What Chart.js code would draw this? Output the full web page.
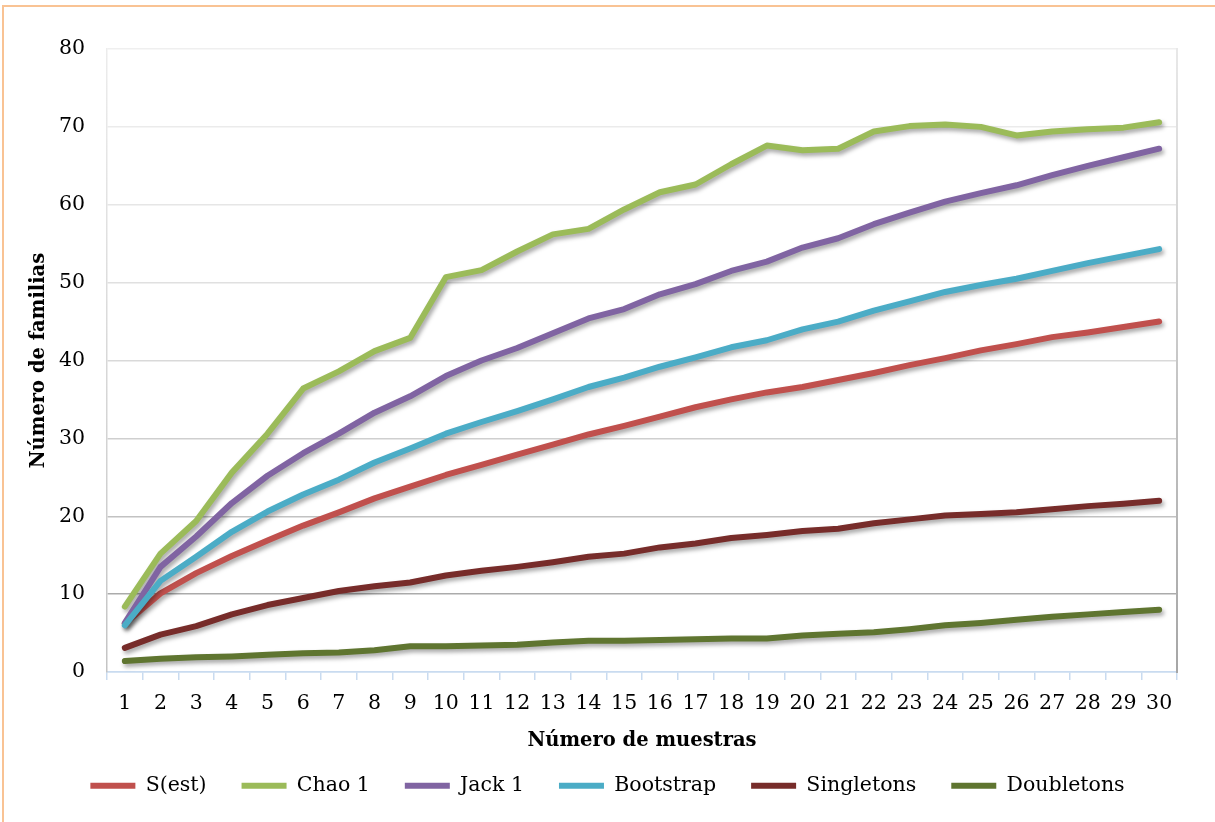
<!DOCTYPE html>
<html>
<head>
<meta charset="utf-8">
<script src="https://cdn.jsdelivr.net/npm/chart.js@4.4.1/dist/chart.umd.min.js"></script>
<style>
  html, body { margin: 0; padding: 0; background: #fff; overflow: hidden; }
  #frame {
    position: absolute; left: 2px; top: 5px; width: 1400px; height: 1000px;
    border-left: 2px solid #f9c394; border-top: 2px solid #f9c394;
  }
  #chart { position: absolute; left: 0; top: 0; }
</style>
</head>
<body>
<div id="frame"></div>
<canvas id="chart" width="1215" height="822"></canvas>
<script>
const muestras = ['1','2','3','4','5','6','7','8','9','10','11','12','13','14','15',
  '16','17','18','19','20','21','22','23','24','25','26','27','28','29','30'];

const sEst = [6.2, 10.1, 12.7, 14.9, 16.9, 18.8, 20.5, 22.3, 23.8, 25.3, 26.6, 27.9, 29.2, 30.5, 31.6,
  32.8, 34.0, 35.0, 35.9, 36.6, 37.5, 38.4, 39.4, 40.3, 41.3, 42.1, 43.0, 43.6, 44.3, 45.0];
const chao1 = [8.4, 15.2, 19.4, 25.6, 30.6, 36.4, 38.6, 41.2, 42.9, 50.7, 51.6, 54.0, 56.2, 56.9, 59.4,
  61.6, 62.6, 65.2, 67.6, 67.0, 67.2, 69.4, 70.1, 70.3, 70.0, 68.9, 69.4, 69.7, 69.9, 70.6];
const jack1 = [6.3, 13.5, 17.4, 21.7, 25.2, 28.1, 30.6, 33.3, 35.4, 38.0, 40.0, 41.6, 43.5, 45.4, 46.6,
  48.5, 49.8, 51.5, 52.7, 54.5, 55.7, 57.5, 59.0, 60.4, 61.5, 62.5, 63.8, 65.0, 66.1, 67.2];
const bootstrap = [6.0, 11.7, 14.8, 18.0, 20.6, 22.8, 24.7, 26.9, 28.7, 30.6, 32.1, 33.5, 35.0, 36.6, 37.8,
  39.2, 40.4, 41.7, 42.6, 44.0, 45.0, 46.4, 47.6, 48.8, 49.7, 50.5, 51.5, 52.5, 53.4, 54.3];
const singletons = [3.1, 4.8, 5.9, 7.4, 8.6, 9.5, 10.4, 11.0, 11.5, 12.4, 13.0, 13.5, 14.1, 14.8, 15.2,
  16.0, 16.5, 17.2, 17.6, 18.1, 18.4, 19.1, 19.6, 20.1, 20.3, 20.5, 20.9, 21.3, 21.6, 22.0];
const doubletons = [1.4, 1.7, 1.9, 2.0, 2.2, 2.4, 2.5, 2.8, 3.3, 3.3, 3.4, 3.5, 3.8, 4.0, 4.0,
  4.1, 4.2, 4.3, 4.3, 4.7, 4.9, 5.1, 5.5, 6.0, 6.3, 6.7, 7.1, 7.4, 7.7, 8.0];

const serie = (label, data, color) => ({
  label: label,
  data: data,
  borderColor: color,
  backgroundColor: color,
  borderWidth: 6,
  borderCapStyle: 'round',
  borderJoinStyle: 'round',
  pointRadius: 0,
  tension: 0
});

// gridlines get darker towards the bottom of the plot
const gridColors = {
  0: '#c9dbf0', 10: '#ababab', 20: '#c2c2c2', 30: '#cfcfcf', 40: '#d9d9d9',
  50: '#e0e0e0', 60: '#e6e6e6', 70: '#ebebeb', 80: '#efefef'
};

const ctx = document.getElementById('chart').getContext('2d');
const leftEdge = ctx.createLinearGradient(0, 49, 0, 673);
leftEdge.addColorStop(0, '#ececec');
leftEdge.addColorStop(1, '#c4c4c4');
const rightEdge = ctx.createLinearGradient(0, 49, 0, 673);
rightEdge.addColorStop(0, '#e8e8e8');
rightEdge.addColorStop(1, '#a6a6a6');

const lineShadow = {
  id: 'lineShadow',
  beforeDatasetsDraw(chart) {
    const c = chart.ctx;
    c.save();
    c.shadowColor = 'rgba(0,0,0,0.35)';
    c.shadowBlur = 4;
    c.shadowOffsetX = 2;
    c.shadowOffsetY = 3;
  },
  afterDatasetsDraw(chart) {
    chart.ctx.restore();
  }
};

const font = 'DejaVu Serif';
const datasets = [
  serie('S(est)', sEst, '#c0504d'),
  serie('Chao 1', chao1, '#9bbb59'),
  serie('Jack 1', jack1, '#8064a2'),
  serie('Bootstrap', bootstrap, '#4bacc6'),
  serie('Singletons', singletons, '#772c2a'),
  serie('Doubletons', doubletons, '#5f7530')
];
// later series are painted on top
datasets.forEach((d, i) => { d.order = datasets.length - i; });

new Chart(ctx, {
  type: 'line',
  data: { labels: muestras, datasets: datasets },
  plugins: [lineShadow],
  options: {
    responsive: false,
    animation: false,
    devicePixelRatio: 1,
    layout: { padding: { top: 49, left: 0, right: 0, bottom: 16 } },
    plugins: {
      tooltip: { enabled: false },
      legend: {
        position: 'bottom',
        labels: {
          usePointStyle: true,
          pointStyle: 'line',
          pointStyleWidth: 45,
          padding: 35,
          color: '#000',
          font: { family: font, size: 20.5 },
          sort: (a, b) => a.datasetIndex - b.datasetIndex
        }
      }
    },
    scales: {
      x: {
        offset: true,
        afterFit: (s) => { s.height = 68.5; },
        grid: {
          offset: true,
          drawOnChartArea: false,
          drawTicks: true,
          tickLength: 8,
          color: '#c9dbf0',
          lineWidth: 1.5
        },
        border: { color: '#c9dbf0', width: 1.5 },
        ticks: {
          color: '#000',
          padding: 11,
          maxRotation: 0,
          autoSkip: false,
          font: { family: font, size: 20.5 }
        },
        title: {
          display: true,
          text: 'Número de muestras',
          color: '#000',
          font: { family: font, size: 19.5, weight: 'bold' },
          padding: { top: 0, bottom: -12 }
        }
      },
      y: {
        min: 0,
        max: 80,
        afterFit: (s) => { s.width = 107; },
        grid: {
          drawTicks: false,
          lineWidth: 1.5,
          color: (c) => gridColors[c.tick.value] || '#e0e0e0'
        },
        border: { color: leftEdge, width: 1.5 },
        ticks: {
          stepSize: 10,
          padding: 22,
          color: '#000',
          font: { family: font, size: 20.5 }
        },
        title: {
          display: true,
          text: 'Número de familias',
          color: '#000',
          font: { family: font, size: 19.5, weight: 'bold' },
          padding: { top: 27, bottom: 0 }
        }
      },
      derecha: {
        type: 'linear',
        position: 'right',
        afterFit: (s) => { s.width = 38; },
        grid: { display: false, drawTicks: false },
        border: { color: rightEdge, width: 2 },
        ticks: { display: false }
      }
    }
  }
});
</script>
</body>
</html>
